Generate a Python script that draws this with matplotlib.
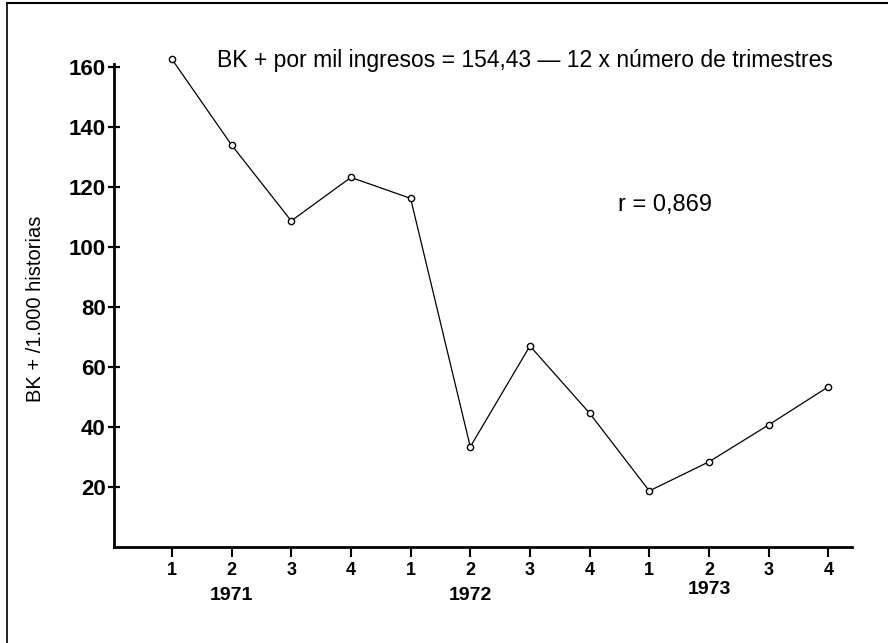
import matplotlib
matplotlib.use("Agg")
import matplotlib.pyplot as plt
from matplotlib.lines import Line2D

plt.rcParams['font.family'] = ['Liberation Sans', 'DejaVu Sans']

quarters = ['1', '2', '3', '4', '1', '2', '3', '4', '1', '2', '3', '4']
years = ['1971', '1972', '1973']
values = [162.6, 134.0, 108.7, 123.2, 116.2, 33.4, 67.0, 44.6, 18.7, 28.4, 40.7, 53.4]
yticks = [20, 40, 60, 80, 100, 120, 140, 160]
ylabel = 'BK + /1.000 historias'
equation = 'BK + por mil ingresos = 154,43 — 12 x número de trimestres'
rtext = 'r = 0,869'

fig = plt.figure(figsize=(8.88, 6.43), dpi=100)
ax = fig.add_axes([0.1284, 0.1493, 0.8306, 0.7512])

x = list(range(len(values)))
ax.plot(x, values, color='black', lw=0.9, marker='o', ms=4.5,
        mfc='white', mec='black', mew=1.0, clip_on=False, zorder=3)

ax.set_xlim(-0.97, 11.39)
ax.set_ylim(0, 161)

for s in ['top', 'right']:
    ax.spines[s].set_visible(False)
for s in ['left', 'bottom']:
    ax.spines[s].set_linewidth(2.0)

ax.set_yticks(yticks)
ax.set_yticklabels([str(v) for v in yticks], fontsize=16, fontweight='bold')
ax.tick_params(axis='y', direction='inout', length=8, width=1.6, pad=2)

ax.set_xticks(x)
ax.set_xticklabels(quarters, fontsize=13, fontweight='bold')
ax.tick_params(axis='x', direction='out', length=7, width=1.5, pad=4)

# year labels under Q2 of each year
year_offsets = [-0.100, -0.100, -0.087]
for i, yr in enumerate(years):
    ax.text(i * 4 + 1, year_offsets[i], yr, transform=ax.get_xaxis_transform(),
            ha='center', va='center', fontsize=14, fontweight='bold')

ax.set_ylabel(ylabel, fontsize=14.5)
ax.yaxis.set_label_coords(-0.0935, 0.493)

fig.text(0.244, 1 - 60 / 643, equation, fontsize=16.5, ha='left', va='center')
fig.text(0.696, 1 - 205 / 643, rtext, fontsize=17, ha='left', va='center')

# frame lines (top and left) of the original figure
fig.add_artist(Line2D([0.008, 1.0], [0.995, 0.995], transform=fig.transFigure,
                      color='black', lw=1.5))
fig.add_artist(Line2D([0.008, 0.008], [0.0, 0.995], transform=fig.transFigure,
                      color='black', lw=1.2))

fig.savefig('out.png', dpi=100)
